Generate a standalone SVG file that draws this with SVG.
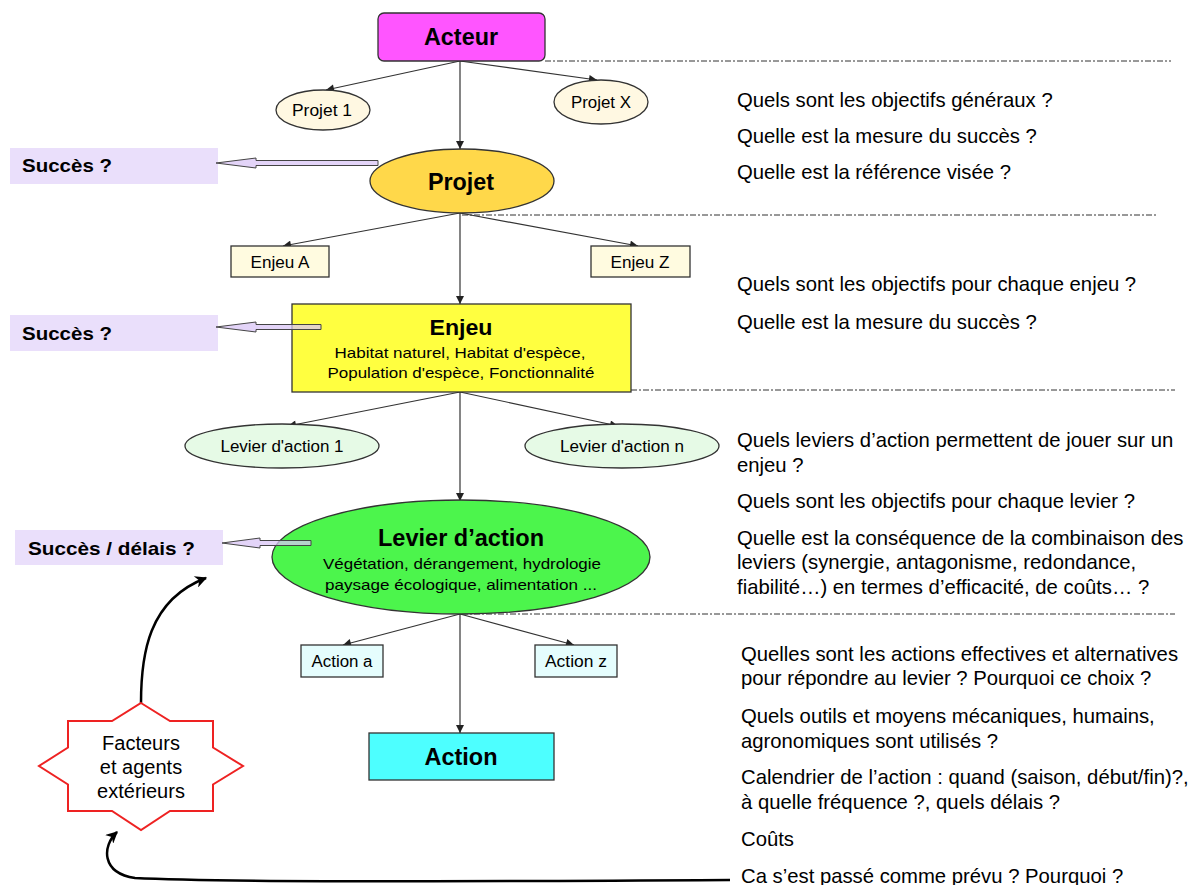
<svg xmlns="http://www.w3.org/2000/svg" width="1200" height="885" viewBox="0 0 1200 885">
<style>
text{font-family:"Liberation Sans",Arial,sans-serif;fill:#000}
.b{font-weight:bold}
.c{text-anchor:middle}
.q{font-size:20.3px}
.node{stroke:#333;stroke-width:1.3}
.conn{stroke:#333;stroke-width:1.2;fill:none}
.dash{stroke:#333;stroke-width:1;stroke-dasharray:6,2,2,2;fill:none}
.lbl{fill:#EADFFB}
.barrow{fill:#D9C6F5;fill-opacity:0.75;stroke:#444;stroke-width:1}
</style>
<defs>
<marker id="arr" viewBox="0 0 10 10" refX="10" refY="5" markerWidth="10" markerHeight="8" markerUnits="userSpaceOnUse" orient="auto"><path d="M0,0 L10,5 L0,10 z" fill="#222"/></marker>
<marker id="big" viewBox="0 0 10 10" refX="9" refY="5" markerWidth="14" markerHeight="12" markerUnits="userSpaceOnUse" orient="auto"><path d="M0,0 L10,5 L0,10 L3,5 z" fill="#000"/></marker>
</defs>

<!-- separators -->
<g id="separators">
<line class="dash" x1="545" y1="61" x2="1171" y2="61"/>
<line class="dash" x1="462" y1="215" x2="1158" y2="215"/>
<line class="dash" x1="631" y1="390" x2="1175" y2="390"/>
<line class="dash" x1="462" y1="614" x2="1175" y2="614"/>
</g>

<!-- left labels -->
<g id="succes1"><rect class="lbl" x="10" y="148" width="208" height="36"/><text class="b" x="22" y="172" font-size="19" textLength="90" lengthAdjust="spacingAndGlyphs">Succès ?</text></g>
<g id="succes2"><rect class="lbl" x="10" y="315" width="208" height="36"/><text class="b" x="22" y="340" font-size="19" textLength="90" lengthAdjust="spacingAndGlyphs">Succès ?</text></g>
<g id="succes3"><rect class="lbl" x="15" y="530" width="208" height="35"/><text class="b" x="28" y="555" font-size="19" textLength="167" lengthAdjust="spacingAndGlyphs">Succès / délais ?</text></g>

<g id="connectors">
<line class="conn" x1="460" y1="61" x2="326" y2="90" marker-end="url(#arr)"/>
<line class="conn" x1="460" y1="61" x2="597" y2="80" marker-end="url(#arr)"/>
<line class="conn" x1="460" y1="61" x2="460" y2="149" marker-end="url(#arr)"/>
<line class="conn" x1="460" y1="213" x2="283" y2="246" marker-end="url(#arr)"/>
<line class="conn" x1="460" y1="213" x2="638" y2="246" marker-end="url(#arr)"/>
<line class="conn" x1="460" y1="213" x2="460" y2="304" marker-end="url(#arr)"/>
<line class="conn" x1="460" y1="392" x2="288" y2="426" marker-end="url(#arr)"/>
<line class="conn" x1="460" y1="392" x2="618" y2="426" marker-end="url(#arr)"/>
<line class="conn" x1="460" y1="392" x2="460" y2="501" marker-end="url(#arr)"/>
<line class="conn" x1="460" y1="614" x2="343" y2="645" marker-end="url(#arr)"/>
<line class="conn" x1="460" y1="614" x2="574" y2="645" marker-end="url(#arr)"/>
<line class="conn" x1="460" y1="614" x2="460" y2="733" marker-end="url(#arr)"/>
<path d="M141,703 C141,655 148,600 206,578" fill="none" stroke="#000" stroke-width="2.5" marker-end="url(#big)"/>
<path d="M730,880 C420,882 210,882 135,878 C101,873 102,846 117,832" fill="none" stroke="#000" stroke-width="2.5" marker-end="url(#big)"/>
</g>

<g id="acteur"><rect class="node" x="378" y="13" width="167" height="48" rx="6" fill="#FF55FF"/><text class="b c" x="461" y="45" font-size="23" textLength="74" lengthAdjust="spacingAndGlyphs">Acteur</text></g>
<g id="projet1"><ellipse class="node" cx="323" cy="110" rx="47" ry="20" fill="#FFF8E2"/><text class="c" x="322" y="116" font-size="16" textLength="60" lengthAdjust="spacingAndGlyphs">Projet 1</text></g>
<g id="projetX"><ellipse class="node" cx="601" cy="102" rx="47" ry="22" fill="#FFF8E2"/><text class="c" x="601" y="108" font-size="16" textLength="60" lengthAdjust="spacingAndGlyphs">Projet X</text></g>

<g id="barrow1"><polygon class="barrow" points="216,163 256,158 256,160.5 378,160.5 378,165.5 256,165.5 256,168"/></g>
<g id="projet"><ellipse class="node" cx="462" cy="181" rx="92" ry="32" fill="#FFD84A"/><text class="b c" x="461" y="190" font-size="23" textLength="66" lengthAdjust="spacingAndGlyphs">Projet</text></g>

<g id="enjeuA"><rect class="node" x="231" y="246" width="98" height="31" fill="#FFFBE0"/><text class="c" x="280" y="268" font-size="16" textLength="59" lengthAdjust="spacingAndGlyphs">Enjeu A</text></g>
<g id="enjeuZ"><rect class="node" x="591" y="246" width="99" height="31" fill="#FFFBE0"/><text class="c" x="640" y="268" font-size="16" textLength="59" lengthAdjust="spacingAndGlyphs">Enjeu Z</text></g>

<g id="enjeu"><rect class="node" x="292" y="304" width="339" height="88" fill="#FFFF40"/>
<text class="b c" x="461" y="335" font-size="22" textLength="63" lengthAdjust="spacingAndGlyphs">Enjeu</text>
<text class="c" x="460" y="358" font-size="15" textLength="251" lengthAdjust="spacingAndGlyphs">Habitat naturel, Habitat d'espèce,</text>
<text class="c" x="461" y="378" font-size="15" textLength="267" lengthAdjust="spacingAndGlyphs">Population d'espèce, Fonctionnalité</text></g>
<g id="barrow2"><polygon class="barrow" points="216,327 256,322 256,324.5 321,324.5 321,329.5 256,329.5 256,332"/></g>

<g id="levier1"><ellipse class="node" cx="282" cy="446" rx="97" ry="22" fill="#E6FAE6"/><text class="c" x="282" y="452" font-size="16" textLength="123" lengthAdjust="spacingAndGlyphs">Levier d'action 1</text></g>
<g id="levierN"><ellipse class="node" cx="622" cy="446" rx="97" ry="22" fill="#E6FAE6"/><text class="c" x="622" y="452" font-size="16" textLength="124" lengthAdjust="spacingAndGlyphs">Levier d'action n</text></g>

<g id="levier"><ellipse class="node" cx="461" cy="557" rx="189" ry="57" fill="#4CF54C"/>
<text class="b c" x="461" y="546" font-size="23" textLength="166" lengthAdjust="spacingAndGlyphs">Levier d’action</text>
<text class="c" x="462" y="569" font-size="15" textLength="278" lengthAdjust="spacingAndGlyphs">Végétation, dérangement, hydrologie</text>
<text class="c" x="461" y="590" font-size="15" textLength="272" lengthAdjust="spacingAndGlyphs">paysage écologique, alimentation ...</text></g>
<g id="barrow3"><polygon class="barrow" points="222,543 260,538 260,540.5 311,540.5 311,545.5 260,545.5 260,548"/></g>

<g id="actionA"><rect class="node" x="301" y="645" width="82" height="32" fill="#E5FDFD"/><text class="c" x="342" y="667" font-size="16" textLength="61" lengthAdjust="spacingAndGlyphs">Action a</text></g>
<g id="actionZ"><rect class="node" x="535" y="645" width="82" height="32" fill="#E5FDFD"/><text class="c" x="576" y="667" font-size="16" textLength="62" lengthAdjust="spacingAndGlyphs">Action z</text></g>
<g id="action"><rect class="node" x="369" y="733" width="185" height="47" fill="#4DFFFF"/><text class="b c" x="461" y="765" font-size="24" textLength="73" lengthAdjust="spacingAndGlyphs">Action</text></g>

<g id="facteurs"><polygon points="141,703 170,721 213,721 213,747.5 243,766 213,784.5 213,811 170,811 141,830 112,811 68,811 68,784.5 39,766 68,747.5 68,721 112,721" fill="#fff" stroke="#EE2222" stroke-width="2"/>
<text class="c" x="141" y="750" font-size="20">Facteurs</text>
<text class="c" x="141" y="774" font-size="20">et agents</text>
<text class="c" x="141" y="798" font-size="20">extérieurs</text></g>

<g id="questions">
<text class="q" x="737" y="107">Quels sont les objectifs généraux ?</text>
<text class="q" x="737" y="143">Quelle est la mesure du succès ?</text>
<text class="q" x="737" y="179">Quelle est la référence visée ?</text>
<text class="q" x="737" y="291">Quels sont les objectifs pour chaque enjeu ?</text>
<text class="q" x="737" y="329">Quelle est la mesure du succès ?</text>
<text class="q" x="737" y="447">Quels leviers d’action permettent de jouer sur un</text>
<text class="q" x="737" y="472">enjeu ?</text>
<text class="q" x="737" y="508">Quels sont les objectifs pour chaque levier ?</text>
<text class="q" x="737" y="545">Quelle est la conséquence de la combinaison des</text>
<text class="q" x="737" y="569">leviers (synergie, antagonisme, redondance,</text>
<text class="q" x="737" y="594">fiabilité…) en termes d’efficacité, de coûts… ?</text>
<text class="q" x="741" y="661">Quelles sont les actions effectives et alternatives</text>
<text class="q" x="741" y="685">pour répondre au levier ? Pourquoi ce choix ?</text>
<text class="q" x="741" y="723">Quels outils et moyens mécaniques, humains,</text>
<text class="q" x="741" y="748">agronomiques sont utilisés ?</text>
<text class="q" x="741" y="784">Calendrier de l’action : quand (saison, début/fin)?,</text>
<text class="q" x="741" y="809">à quelle fréquence ?, quels délais ?</text>
<text class="q" x="741" y="846">Coûts</text>
<text class="q" x="741" y="883">Ca s’est passé comme prévu ? Pourquoi ?</text>
</g>
</svg>
